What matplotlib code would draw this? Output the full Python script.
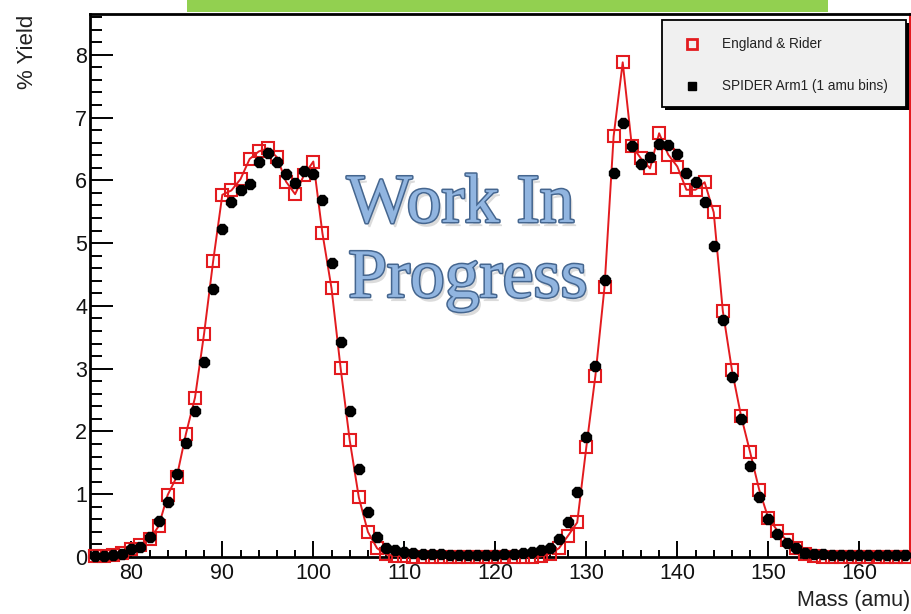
import matplotlib
matplotlib.use("Agg")
import matplotlib.pyplot as plt
from matplotlib import patheffects as pe
from matplotlib.lines import Line2D
from matplotlib.patches import Rectangle
import matplotlib.font_manager as fm
from matplotlib.ticker import MultipleLocator

# ---------------- data ----------------
mass = list(range(76, 166))

er_yield = [0.01, 0.02, 0.03, 0.06,
            0.12, 0.19, 0.28, 0.49, 0.99, 1.28, 1.96, 2.54, 3.56, 4.72,
            5.77, 5.84, 6.02, 6.34, 6.46, 6.51, 6.37, 5.98, 5.78, 6.09,
            6.30, 5.16, 4.28, 3.01, 1.86, 0.95, 0.40, 0.14, 0.04, 0.02,
            0.01, 0.0, 0.0, 0.0, 0.0, 0.0, 0.0, 0.0, 0.0, 0.0,
            0.0, 0.0, 0.0, 0.0, 0.0, 0.01, 0.05, 0.14, 0.34, 0.55,
            1.75, 2.89, 4.30, 6.70, 7.88, 6.55, 6.35, 6.19, 6.75, 6.41,
            6.22, 5.85, 5.85, 5.97, 5.49, 3.92, 2.98, 2.25, 1.67, 1.07,
            0.62, 0.42, 0.27, 0.14, 0.05, 0.02, 0.0, 0.0, 0.0, 0.0,
            0.0, 0.0, 0.0, 0.0, 0.0, 0.0]

spider_yield = [0.01, 0.02, 0.03, 0.05,
                0.12, 0.16, 0.32, 0.58, 0.88, 1.33, 1.81, 2.33, 3.11, 4.27,
                5.22, 5.66, 5.85, 5.94, 6.29, 6.44, 6.30, 6.10, 5.95, 6.15,
                6.10, 5.69, 4.68, 3.42, 2.33, 1.40, 0.71, 0.32, 0.15, 0.11,
                0.08, 0.06, 0.05, 0.04, 0.04, 0.03, 0.03, 0.03, 0.03, 0.03,
                0.03, 0.04, 0.05, 0.06, 0.08, 0.11, 0.14, 0.28, 0.55, 1.04,
                1.91, 3.05, 4.41, 6.12, 6.91, 6.54, 6.26, 6.37, 6.58, 6.57,
                6.42, 6.12, 5.98, 5.66, 4.95, 3.78, 2.86, 2.20, 1.45, 0.95,
                0.60, 0.37, 0.22, 0.14, 0.07, 0.05, 0.04, 0.03, 0.03, 0.03,
                0.03, 0.03, 0.03, 0.03, 0.03, 0.03]

series_labels = ["England & Rider", "SPIDER Arm1 (1 amu bins)"]
x_label = "Mass (amu)"
y_label = "% Yield"
watermark = ["Work In", "Progress"]

# ---------------- style ----------------
RED = "#e31b1f"
W, H = 912, 614
fig = plt.figure(figsize=(W / 100, H / 100), dpi=100)
fig.patch.set_facecolor("white")

names = {f.name for f in fm.fontManager.ttflist}
SANS = "Liberation Sans"
NARROW = "Liberation Sans Narrow" if "Liberation Sans Narrow" in names else None

def fx(px):
    return px / W

def fy(py):
    return 1 - py / H

ax = fig.add_axes([fx(90), fy(557), (910 - 90) / W, (557 - 14) / H])

ax.plot(mass, er_yield, color=RED, lw=1.4, marker="s", markersize=8,
        markerfacecolor="none", markeredgecolor=RED, markeredgewidth=1.5,
        clip_on=False, zorder=3)
ax.plot(mass, spider_yield, linestyle="none", marker="8", markersize=7.5,
        color="black", clip_on=False, zorder=4)

ax.set_xlim(75.46, 165.57)
ax.set_ylim(0, 8.65)

ax.xaxis.set_major_locator(MultipleLocator(10))
ax.xaxis.set_minor_locator(MultipleLocator(2))
ax.yaxis.set_major_locator(MultipleLocator(1))
ax.yaxis.set_minor_locator(MultipleLocator(0.2))

ax.tick_params(axis="both", which="both", direction="in", width=1.4,
               labelsize=15.5, top=False, right=False, labelcolor="#111111")
ax.tick_params(axis="y", which="major", length=16.5, pad=2)
ax.tick_params(axis="y", which="minor", length=8.5)
ax.tick_params(axis="x", which="major", length=11.5, pad=4)
ax.tick_params(axis="x", which="minor", length=5)
for lab in ax.get_xticklabels() + ax.get_yticklabels():
    lab.set_fontfamily(SANS)

for s in ["left", "bottom", "top"]:
    ax.spines[s].set_linewidth(2)
    ax.spines[s].set_color("black")
ax.spines["right"].set_color(RED)
ax.spines["right"].set_linewidth(1.5)

# axis labels
fig.text(fx(28), fy(15), y_label, rotation=90, ha="center", va="top",
         fontsize=16, family=SANS, color="#222222")
fig.text(fx(910), fy(606), x_label, ha="right", va="baseline",
         fontsize=15.5, family=SANS, color="#222222")

# watermark
wm_effects = [pe.SimplePatchShadow(offset=(2, -3), shadow_rgbFace="#999999", alpha=0.35),
              pe.Stroke(linewidth=2.2, foreground="#45668f"),
              pe.Normal()]
ax.text(0.313, 0.617, watermark[0], transform=ax.transAxes, ha="left",
        va="baseline", fontsize=50, family="Liberation Serif",
        color="#91b5e0", path_effects=wm_effects, zorder=5)
ax.text(0.315, 0.479, watermark[1], transform=ax.transAxes, ha="left",
        va="baseline", fontsize=50, family="Liberation Serif",
        color="#91b5e0", path_effects=wm_effects, zorder=5)

# legend (manual, ROOT-style box with shadow)
bx0, by0, bx1, by1 = 662, 20, 906, 107
shadow = Rectangle((fx(bx0 + 3), fy(by1 + 3)), fx(bx1 - bx0), (by1 - by0) / H,
                   transform=fig.transFigure, facecolor="black",
                   edgecolor="none", zorder=10)
box = Rectangle((fx(bx0), fy(by1)), fx(bx1 - bx0), (by1 - by0) / H,
                transform=fig.transFigure, facecolor="#f0f0f0",
                edgecolor="black", lw=1.3, zorder=11)
fig.add_artist(shadow)
fig.add_artist(box)
fig.add_artist(Line2D([fx(692)], [fy(44)], transform=fig.transFigure,
                      marker="s", markersize=6.5, markerfacecolor="none",
                      markeredgecolor=RED, markeredgewidth=2, zorder=12))
fig.add_artist(Line2D([fx(692)], [fy(86)], transform=fig.transFigure,
                      marker="s", markersize=5.5, color="black", zorder=12))
if NARROW:
    lfam, lsize = [NARROW, SANS], 11.5
else:
    lfam, lsize = [SANS], 9.8
fig.text(fx(722), fy(44), series_labels[0], ha="left", va="center",
         fontsize=lsize, family=lfam, color="#222222", zorder=12)
fig.text(fx(722), fy(86), series_labels[1], ha="left", va="center",
         fontsize=lsize, family=lfam, color="#222222", zorder=12)

# green banner strip at top
fig.add_artist(Rectangle((fx(187), fy(12)), fx(828 - 187), 12 / H,
                         transform=fig.transFigure, facecolor="#92d050",
                         edgecolor="none", zorder=10))

fig.savefig("out.png", dpi=100)
